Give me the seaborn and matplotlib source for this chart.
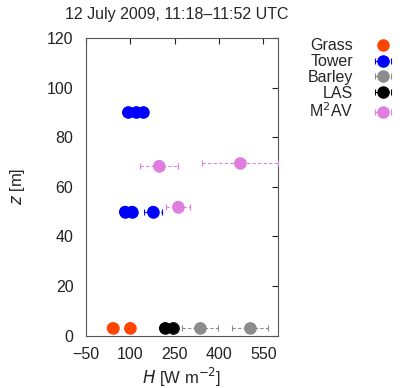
import matplotlib
matplotlib.use("Agg")
import matplotlib.pyplot as plt
import seaborn as sns
import pandas as pd
import numpy as np

# sensible heat flux profiles, 12 July 2009
grass_h = [40, 99]
grass_z = [3, 3]

tower_h = [92, 119, 143, 82, 106, 177]
tower_z = [90, 90, 90, 50, 50, 50]
tower_err = [0, 0, 0, 0, 0, 30]

barley_h = [245, 336, 505]
barley_z = [3, 3, 3]
barley_err = [0, 60, 60]

las_h = [217, 245]
las_z = [3, 3]
las_err = [12, 12]

mav_h = [197, 471, 262]
mav_z = [68.5, 69.5, 52]
mav_err = [65, 130, 40]

colors = {"Grass": "#ff4500", "Tower": "#0000ff", "Barley": "#8c8c8c",
          "LAS": "#000000", "M$^2$AV": "#e07ee0"}

df = pd.DataFrame({
    "H": grass_h + tower_h + barley_h + las_h + mav_h,
    "z": grass_z + tower_z + barley_z + las_z + mav_z,
    "err": [0, 0] + tower_err + barley_err + las_err + mav_err,
    "src": ["Grass"] * 2 + ["Tower"] * 6 + ["Barley"] * 3 + ["LAS"] * 2 + ["M$^2$AV"] * 3,
})

sns.set_style("white")
plt.rcParams["font.family"] = ["Liberation Sans", "DejaVu Sans"]

fig = plt.figure(figsize=(4.17, 3.88), dpi=100)
ax = fig.add_axes([0.206, 0.135, 0.461, 0.767])

handles = []
for name, grp in df.groupby("src", sort=False):
    c = colors[name]
    if name == "Grass":
        h = ax.errorbar(grp["H"], grp["z"], fmt="o", color=c, ms=8, label=name, zorder=3)
    else:
        h = ax.errorbar(grp["H"], grp["z"], xerr=grp["err"], fmt="o", color=c, ms=8,
                        ecolor=c, elinewidth=0.8, capsize=2, capthick=0.8,
                        label=name, zorder=3)
        h[2][0].set_linestyle((0, (3, 2)))
    handles.append(h)

sns.scatterplot(data=df, x="H", y="z", hue="src", palette=colors, s=70,
                edgecolor="none", legend=False, ax=ax, zorder=4)

ax.set_xlim(-50, 600)
ax.set_ylim(0, 120)
ax.set_xticks([-50, 100, 250, 400, 550])
ax.set_yticks([0, 20, 40, 60, 80, 100, 120])
ax.tick_params(direction="in", top=True, right=True, length=4, labelsize=11.5,
               colors="#222222")
ax.tick_params(axis="y", pad=9)
ax.tick_params(axis="x", pad=8)
for s in ax.spines.values():
    s.set_color("#555555")
    s.set_linewidth(0.8)
ax.set_xticklabels(["\u221250", "100", "250", "400", "550"])
ax.set_xlabel("$H$ [W m$^{-2}$]", fontsize=12, labelpad=3)
ax.set_ylabel("$z$ [m]", fontsize=12, labelpad=14)
ax.set_title("12 July 2009, 11:18\u201311:52 UTC", fontsize=11.5, pad=14, x=0.47)

ax.legend(handles=handles, labels=list(colors.keys()), loc="upper left",
          bbox_to_anchor=(1.12, 1.02), frameon=False, markerfirst=False,
          fontsize=11.5, labelspacing=0.05, handlelength=2.8, handletextpad=0.5,
          borderaxespad=0)

fig.savefig("out.png", dpi=100)
